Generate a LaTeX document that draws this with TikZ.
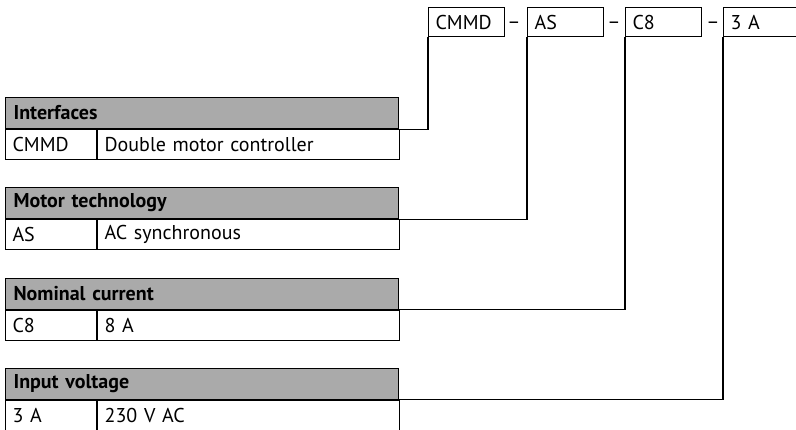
\documentclass[tikz,border=0pt]{standalone}
\usepackage{fontspec}
\setmainfont{PT Sans}
\usetikzlibrary{positioning}

\definecolor{hdrgray}{RGB}{170,170,170}
\newcommand{\tabfont}{\fontsize{20}{22}\selectfont}

\tikzset{
	hdrbox/.style={draw, fill=hdrgray, anchor=north west, text width=377pt, inner xsep=8pt, inner ysep=0pt, minimum height=31pt, align=left, font=\tabfont\bfseries},
	keycell/.style={draw, anchor=north west, text width=77pt, inner xsep=7pt, inner ysep=0pt, minimum height=30pt, align=left, font=\tabfont},
	valcell/.style={draw, anchor=north west, text width=288pt, inner xsep=7pt, inner ysep=0pt, minimum height=30pt, align=left, font=\tabfont},
	codebox/.style={draw, anchor=north west, text width=62pt, inner xsep=7pt, inner ysep=0pt, minimum height=29pt, align=left, font=\tabfont},
	sep/.style={font=\tabfont, inner sep=0pt}
}

\begin{document}
\begin{tikzpicture}[x=1pt, y=-1pt, line width=1.1pt]

	\useasboundingbox (0,0) rectangle (796,429);

	% order code
	\node[codebox] (cmmd) at (428,7) {CMMD};
	\node[codebox] (as) at (527,7) {AS};
	\node[codebox] (c8) at (625,7) {C8};
	\node[codebox] (amp) at (723,7) {3 A};
	\node[sep] (s1) at (514,25) {\textendash};
	\node[sep] (s2) at (614,25) {\textendash};
	\node[sep] (s3) at (713,25) {\textendash};

	% tables
	\node[hdrbox] (ifc) at (5,97) {Interfaces};
	\node[keycell] (ifck) at (ifc.south west) {CMMD};
	\node[valcell] (ifcv) at (ifck.north east) {Double motor controller};

	\node[hdrbox] (mot) at (5,187) {Motor technology};
	\node[keycell] (motk) at (mot.south west) {AS};
	\node[valcell] (motv) at (motk.north east) {AC synchronous};

	\node[hdrbox] (cur) at (5,277.5) {Nominal current};
	\node[keycell] (curk) at (cur.south west) {C8};
	\node[valcell] (curv) at (curk.north east) {8 A};

	\node[hdrbox] (volt) at (5,367.5) {Input voltage};
	\node[keycell] (voltk) at (volt.south west) {3 A};
	\node[valcell] (voltv) at (voltk.north east) {230 V AC};

	% connectors
	\draw (ifc.south east) -| (cmmd.south west);
	\draw (mot.south east) -| (as.south west);
	\draw (cur.south east) -| (c8.south west);
	\draw (volt.south east) -| (amp.south west);

\end{tikzpicture}
\end{document}
